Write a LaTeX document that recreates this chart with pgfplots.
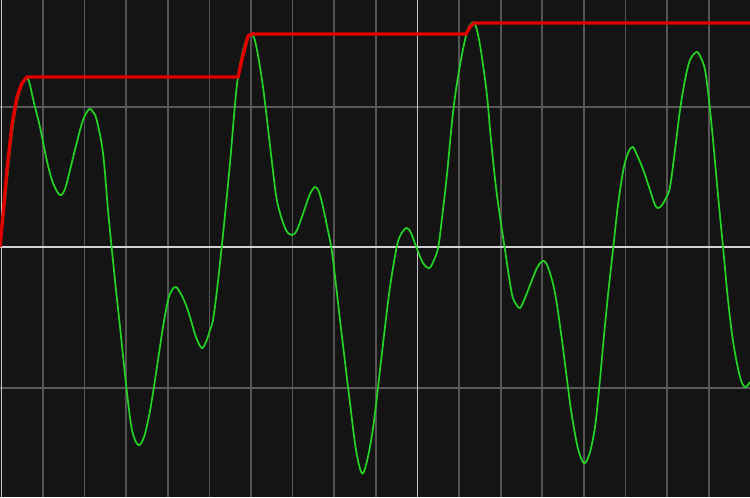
\documentclass[border=0pt]{standalone}
\usepackage{pgfplots}
\pgfplotsset{compat=1.18}
\definecolor{bg}{HTML}{141414}
\definecolor{gridg}{HTML}{555555}
\definecolor{gridh}{HTML}{5A5A5A}
\definecolor{gridw}{HTML}{D2D2D2}
\definecolor{sig}{HTML}{24D424}
\definecolor{peak}{HTML}{E00000}
\begin{document}
\begin{tikzpicture}
\begin{axis}[
  width=10cm, height=6.627cm, scale only axis,
  xmin=0, xmax=750, ymin=0, ymax=497, y dir=reverse,
  axis line style={draw=none},
  axis background/.style={fill=bg},
  xtick={43,84.5,126,168,209.5,251,292.5,334,376,459,501,542,584,625.5,667,709},
  ytick={107,388},
  xticklabels={}, yticklabels={},
  ticklabel style={inner sep=0pt, outer sep=0pt},
  major tick length=0pt,
  grid=major,
  x grid style={draw=gridg, line width=0.4pt},
  y grid style={draw=gridh, line width=0.75pt},
  extra x ticks={1.3,417.5},
  extra x tick labels={},
  extra x tick style={grid=major, x grid style={draw=gridw!85!gray, line width=0.45pt}},
  extra y ticks={247},
  extra y tick labels={},
  extra y tick style={grid=major, y grid style={draw=gridw, line width=1.1pt}},
  clip=true,
]
\addplot[sig, line width=0.65pt, smooth, tension=0.55] coordinates {
(0,247)(5,200)(10,150)(15,112)(20,90)(24,81)(27.3,78)(30,85)(33.3,100)(40,127)(46.7,160)(53,183)(60,195)(65,189)
(70,170)(76.7,143)(83,120)(89.3,109)(93,112)(96.7,120)(103,153)(108,210)(111.7,248)(116,290)(120,327)(126.7,390)
(132,430)(138.3,445)(144,437)(149,416)(153,393)(158,360)(163,327)(168,300)(172,290)(176,287)(181,294)(186,305)
(190,317)(196,337)(201.7,348)(206,342)(210,330)(213,320)(217,290)(221.7,247)(226,205)(230,163)(236.7,87)(242,55)
(247,38)(251.7,34)(256,45)(263,87)(271.7,160)(276,195)(280,213)(286,230)(291.7,235)(297,230)(305,208)(310,194)
(315,187)(319,192)(323,207)(327,226)(331.7,250)(336,285)(340,320)(345,362)(350,403)(356,450)(361.7,473)(366,465)
(371.7,437)(376,405)(380,370)(385,327)(390,287)(396.7,247)(401,234)(406.7,228)(411,233)(416.7,248)(423,263)
(429.3,268)(434,260)(438.3,247)(442,218)(446.7,177)(453.3,110)(460,65)(466.7,33)(471,24)(475,24)(480,45)(486.7,93)
(491,140)(496.7,193)(505,250)(511.7,293)(516,304)(520,308)(525,298)(532,280)(538,266)(544,261)(549,270)(555,293)
(561,333)(566.7,377)(571,410)(576.7,443)(581,458)(585,463)(590,452)(595,427)(599,390)(603.3,343)(608,295)
(613.3,247)(618,205)(623.3,170)(628,153)(632.7,147)(637,155)(643.3,170)(650,190)(655,205)(658.3,208)(662,205)
(666,198)(670,187)(675,150)(680,110)(685,80)(690,60)(696.7,52)(701,58)(705,70)(709,100)(713.3,143)(718,195)
(723.3,250)(728,300)(733.3,343)(740,377)(745,387)(750,382)
};
\addplot[peak, line width=1.3pt] coordinates {
(0,247)(3,215)(7,170)(12,125)(17,97)(22,83)(27,77)(238,77)(243,55)(248,36)(252,34)(466,34)(470,27)(474,23)(750,23)
};
\end{axis}
\pgfresetboundingbox
\path[use as bounding box] (current axis.south west) rectangle (current axis.north east);
\end{tikzpicture}
\end{document}
